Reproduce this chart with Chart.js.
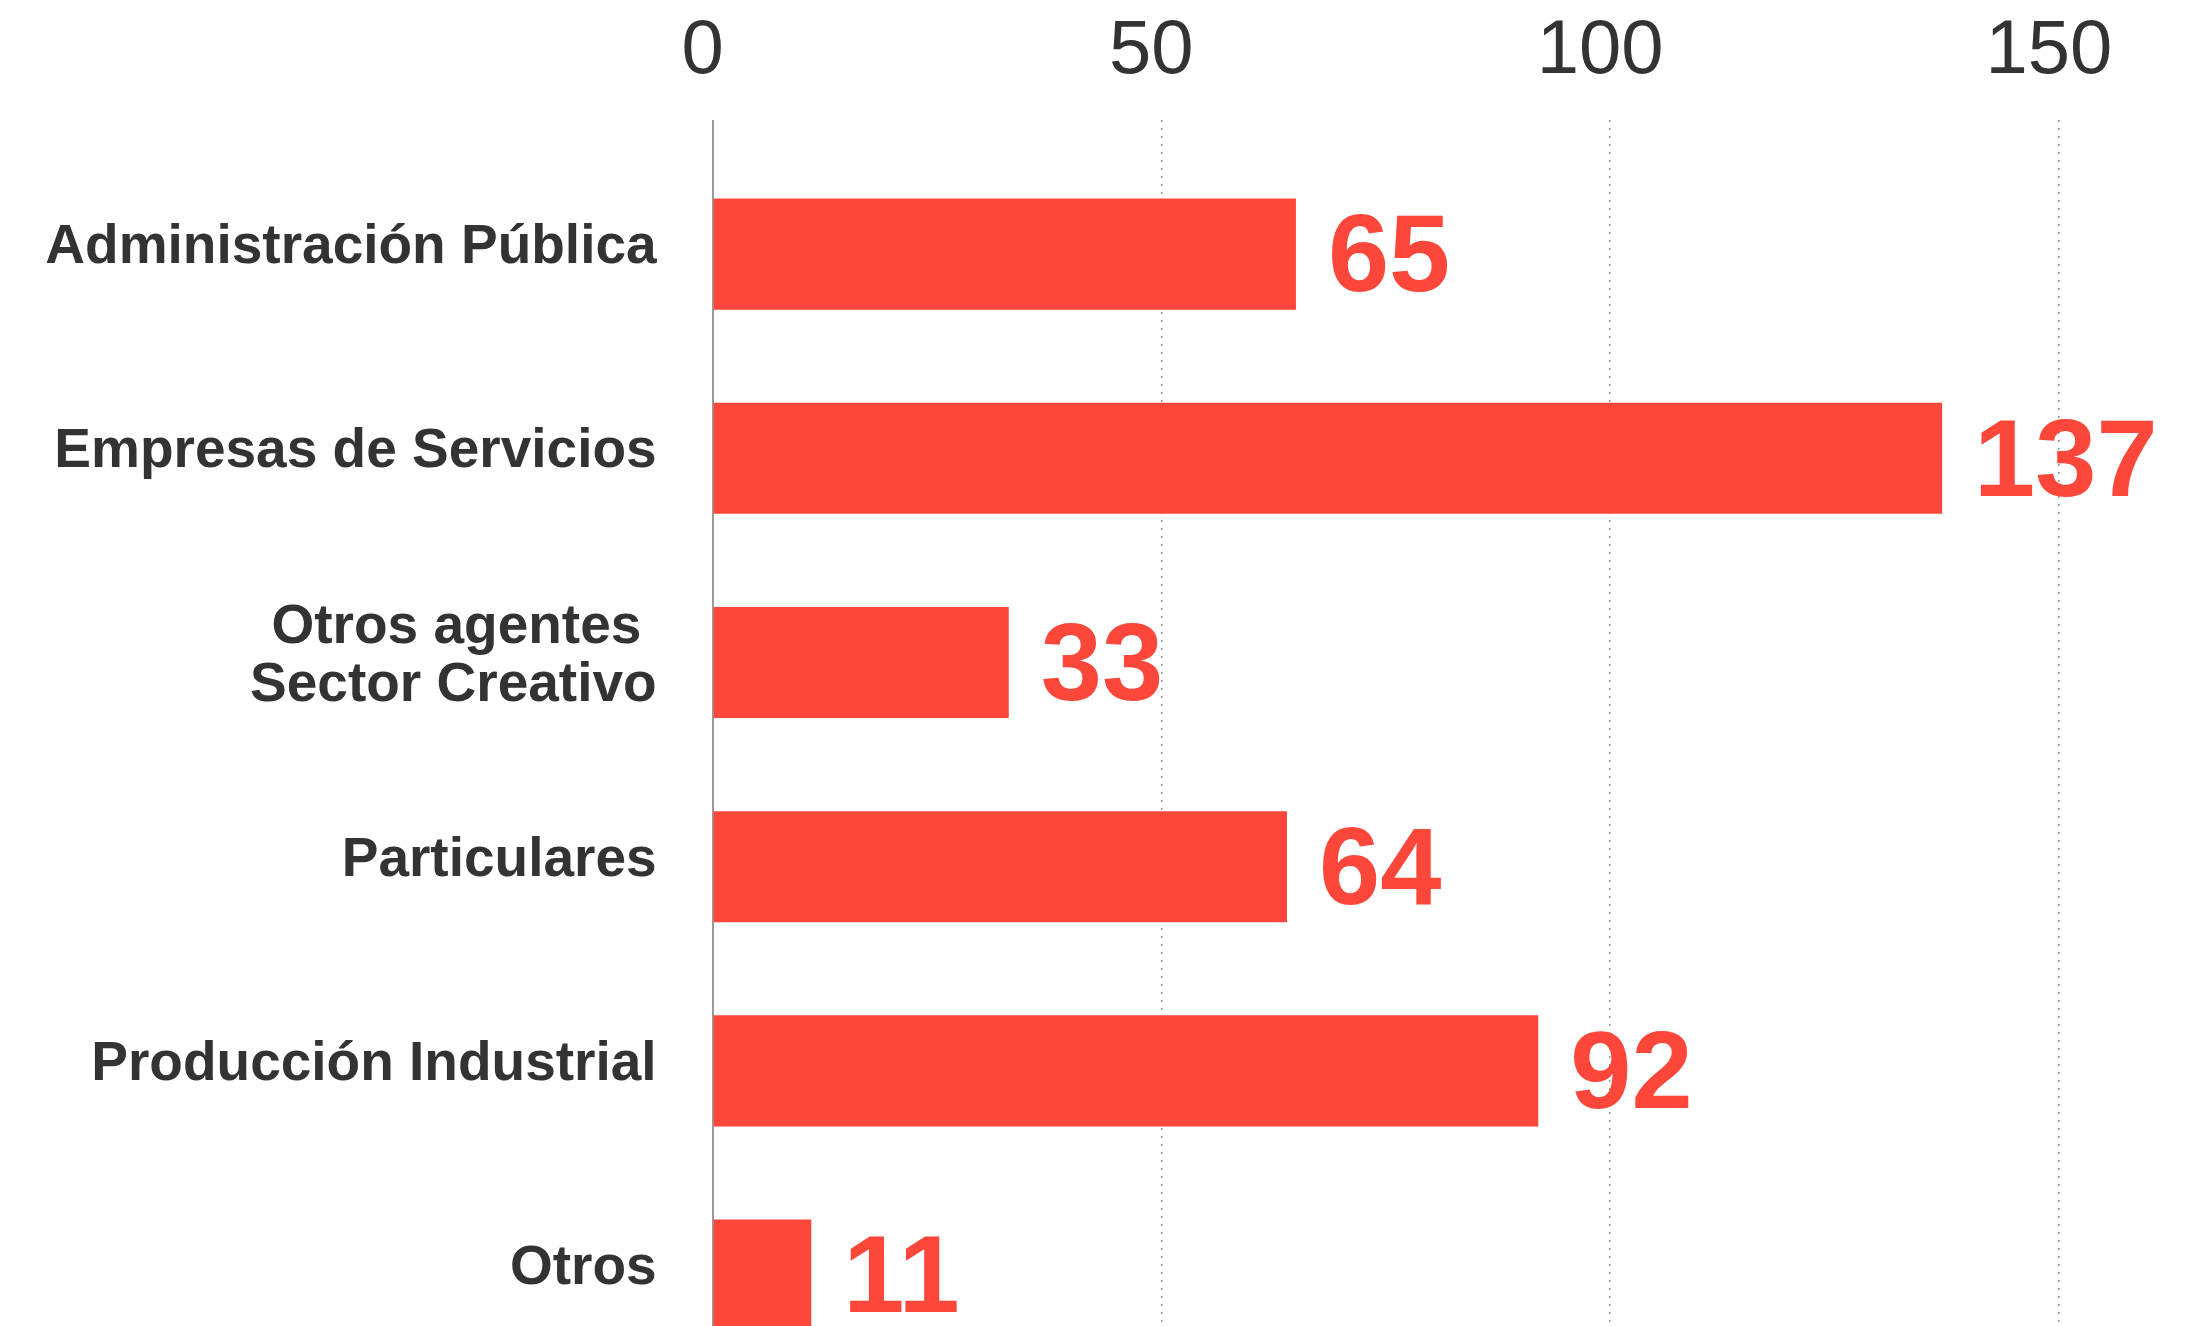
<!DOCTYPE html>
<html>
<head>
<meta charset="utf-8">
<script src="https://cdn.jsdelivr.net/npm/chart.js@4/dist/chart.umd.min.js"></script>
<style>
  html, body { margin: 0; padding: 0; background: #ffffff; overflow: hidden; }
  #wrap { width: 2208px; height: 1326px; overflow: hidden; position: relative; }
  canvas { display: block; }
</style>
</head>
<body>
<div id="wrap"><canvas id="c" width="2208" height="1380"></canvas></div>
<script>
const categories = [
  'Administración Pública',
  'Empresas de Servicios',
  ['Otros agentes ', 'Sector Creativo'],
  'Particulares',
  'Producción Industrial',
  'Otros'
];
const values = [65, 137, 33, 64, 92, 11];
const xTickValues = [0, 50, 100, 150];

const BAR_COLOR = '#fe473b';
const TEXT_COLOR = '#333333';
const GRID_COLOR = '#9a9a9a';

const valueLabels = {
  id: 'valueLabels',
  afterDatasetsDraw(chart) {
    const ctx = chart.ctx;
    const meta = chart.getDatasetMeta(0);
    ctx.save();
    ctx.font = 'bold 110px "Liberation Sans", Arial, sans-serif';
    ctx.fillStyle = BAR_COLOR;
    ctx.textAlign = 'left';
    ctx.textBaseline = 'middle';
    meta.data.forEach((bar, i) => {
      ctx.fillText(String(values[i]), bar.x + 32, bar.y + 7);
    });
    ctx.restore();
  }
};

new Chart(document.getElementById('c'), {
  type: 'bar',
  data: {
    labels: categories,
    datasets: [{
      data: values,
      backgroundColor: BAR_COLOR,
      borderWidth: 0,
      barPercentage: 0.544,
      categoryPercentage: 1.0
    }]
  },
  options: {
    indexAxis: 'y',
    responsive: false,
    animation: false,
    events: [],
    layout: { padding: { top: 8, right: 14.6, bottom: 2.8, left: 0 } },
    plugins: { legend: { display: false }, tooltip: { enabled: false } },
    scales: {
      x: {
        position: 'top',
        min: 0,
        max: 165,
        afterBuildTicks(scale) {
          scale.ticks = xTickValues.map(v => ({ value: v }));
        },
        afterFit(scale) {
          scale.paddingLeft = 0;
          scale.paddingRight = 0;
          scale.height = 144;
        },
        ticks: {
          color: TEXT_COLOR,
          padding: 22,
          labelOffset: -10,
          font: { family: '"Liberation Sans", Arial, sans-serif', size: 76, lineHeight: 1.2 },
          maxRotation: 0
        },
        grid: {
          drawTicks: true,
          tickLength: 32,
          color: GRID_COLOR,
          tickColor: GRID_COLOR,
          lineWidth: (c) => (c.index === 0 ? 2 : 1.5),
          tickWidth: (c) => (c.index === 0 ? 2 : 1.5),
          tickBorderDash: (c) => (c.index === 0 ? [] : [2, 6])
        },
        border: {
          display: false,
          dash: (c) => (c.index === 0 ? [] : [2, 6])
        }
      },
      y: {
        afterFit(scale) {
          scale.width = 712.6;
          scale.paddingTop = 0;
          scale.paddingBottom = 0;
        },
        ticks: {
          color: TEXT_COLOR,
          padding: 56,
          labelOffset: -6,
          font: { family: '"Liberation Sans", Arial, sans-serif', size: 55, weight: 'bold', lineHeight: 1.05 }
        },
        grid: { display: false, drawTicks: false },
        border: { display: false }
      }
    }
  },
  plugins: [valueLabels]
});
</script>
</body>
</html>
